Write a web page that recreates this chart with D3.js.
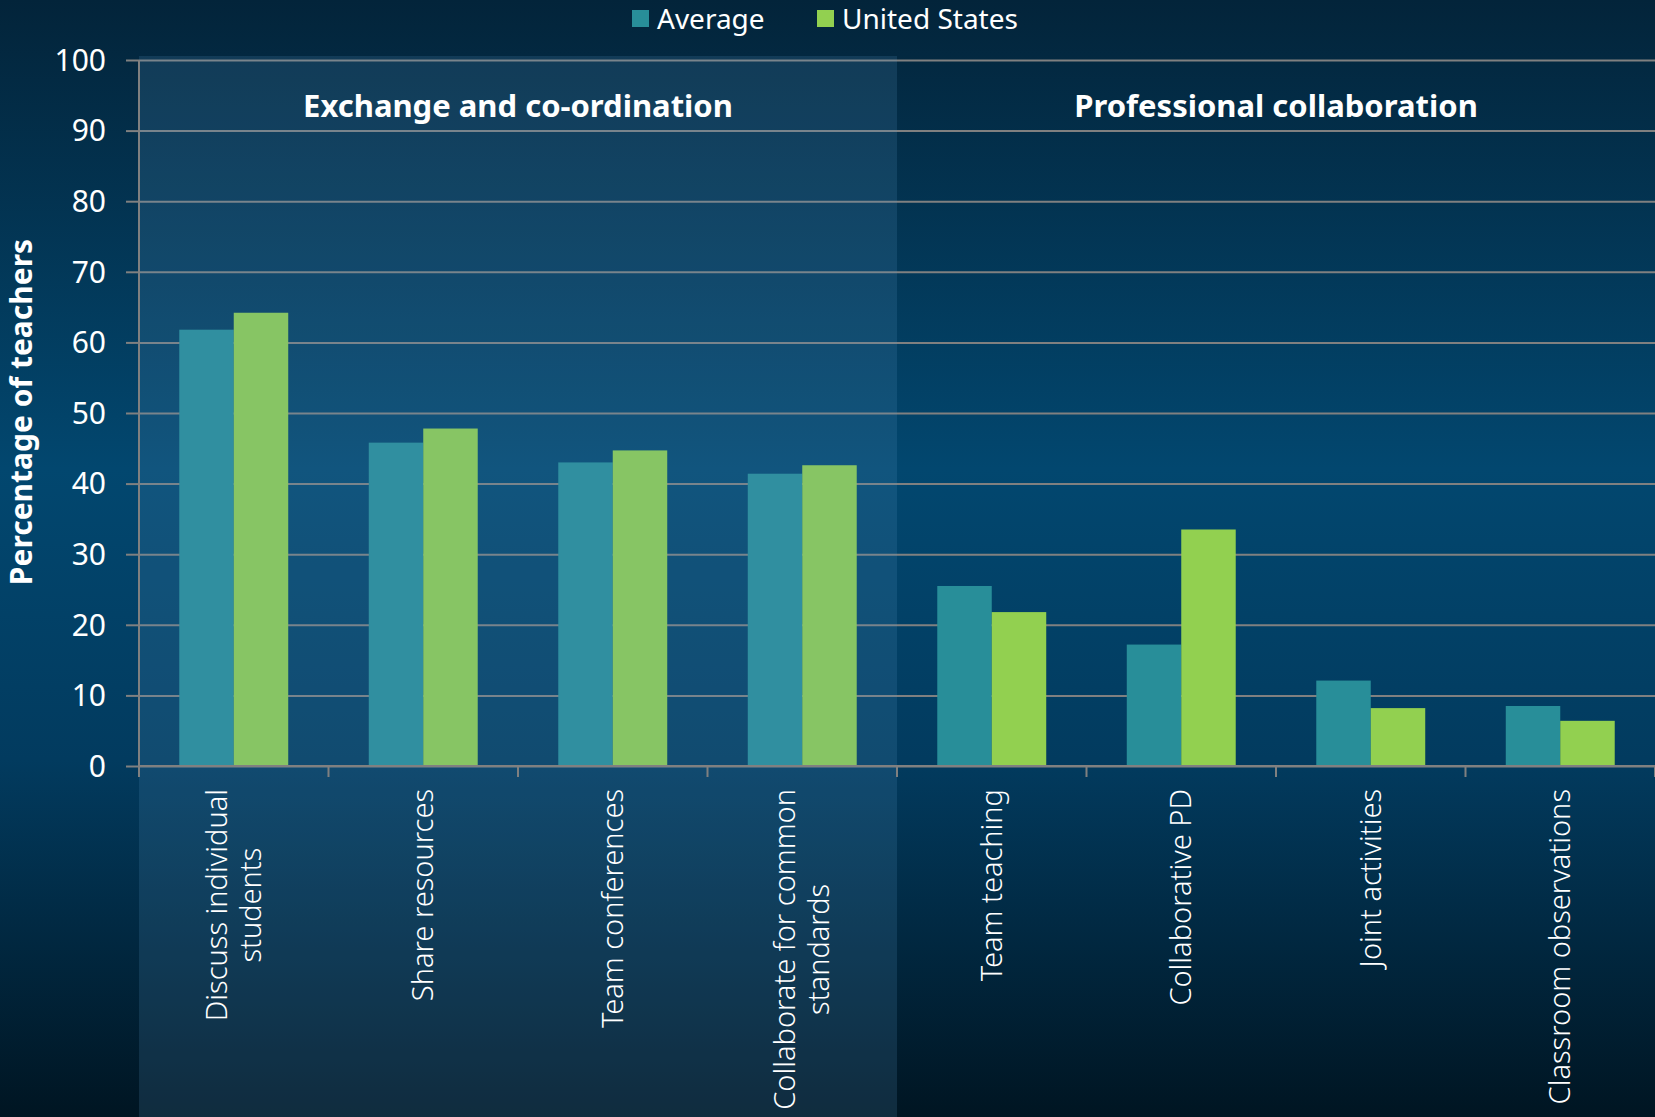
<!DOCTYPE html>
<html>
<head>
<meta charset="utf-8">
<script src="https://cdn.jsdelivr.net/npm/d3@7"></script>
<style>
  html, body { margin: 0; padding: 0; background: #001a2c; }
  svg text { font-family: "Noto Sans", "Open Sans", sans-serif; fill: #ffffff; }
</style>
</head>
<body>
<div id="chart"></div>
<script>
var categories = [
  "Discuss individual\nstudents",
  "Share resources",
  "Team conferences",
  "Collaborate for common\nstandards",
  "Team teaching",
  "Collaborative PD",
  "Joint activities",
  "Classroom observations"
];
var seriesNames = ["Average", "United States"];
var averageValues = [61.8, 45.8, 43.0, 41.4, 25.5, 17.2, 12.1, 8.5];
var usValues = [64.2, 47.8, 44.7, 42.6, 21.8, 33.5, 8.2, 6.4];
var groupNames = ["Exchange and co-ordination", "Professional collaboration"];
var groupSpans = [[0, 3], [4, 7]];
var yTicks = [0, 10, 20, 30, 40, 50, 60, 70, 80, 90, 100];

var width = 1655,
    height = 1117,
    plotLeft = 139,
    plotTop = 60,
    plotBottom = 766;

var colors = { "Average": "#288e99", "United States": "#92d050" };

var svg = d3.select("#chart").append("svg")
    .attr("width", width)
    .attr("height", height);

var defs = svg.append("defs");
var grad = defs.append("linearGradient")
    .attr("id", "bg")
    .attr("x1", 0).attr("y1", 0).attr("x2", 0).attr("y2", 1);
grad.append("stop").attr("offset", "0%").attr("stop-color", "#03243a");
grad.append("stop").attr("offset", "42%").attr("stop-color", "#02476f");
grad.append("stop").attr("offset", "68%").attr("stop-color", "#023b5f");
grad.append("stop").attr("offset", "100%").attr("stop-color", "#001522");

svg.append("rect")
    .attr("width", width)
    .attr("height", height)
    .attr("fill", "url(#bg)");

var x0 = d3.scaleBand()
    .domain(categories)
    .range([plotLeft, width])
    .paddingInner(0.425)
    .paddingOuter(0.2125);

var x1 = d3.scaleBand()
    .domain(seriesNames)
    .range([0, x0.bandwidth()]);

var y = d3.scaleLinear()
    .domain([0, 100])
    .range([plotBottom, plotTop]);

// gridlines
svg.append("g")
    .attr("transform", "translate(" + plotLeft + ",0)")
    .call(d3.axisLeft(y).tickValues(yTicks).tickSize(-(width - plotLeft)).tickFormat(""))
    .call(function (g) {
      g.select(".domain").remove();
      g.selectAll("line").attr("stroke", "#808080").attr("stroke-width", 2);
    });

// bars
var rows = categories.map(function (c, i) {
  return { cat: c, values: [
    { key: "Average", value: averageValues[i] },
    { key: "United States", value: usValues[i] }
  ] };
});

svg.append("g")
  .selectAll("g")
  .data(rows)
  .enter().append("g")
    .attr("transform", function (d) { return "translate(" + x0(d.cat) + ",0)"; })
  .selectAll("rect")
  .data(function (d) { return d.values; })
  .enter().append("rect")
    .attr("x", function (d) { return x1(d.key); })
    .attr("y", function (d) { return y(d.value); })
    .attr("width", x1.bandwidth())
    .attr("height", function (d) { return plotBottom - y(d.value); })
    .attr("fill", function (d) { return colors[d.key]; });

// lighter overlay on the first group
var step = x0.step();
svg.append("rect")
    .attr("x", plotLeft)
    .attr("y", plotTop - 4)
    .attr("width", step * (groupSpans[0][1] - groupSpans[0][0] + 1))
    .attr("height", height - plotTop + 4)
    .attr("fill", "#5a93c4")
    .attr("opacity", 0.18);

// y ticks
svg.append("g")
    .attr("transform", "translate(" + plotLeft + ",0)")
    .call(d3.axisLeft(y).tickValues(yTicks).tickSize(13).tickFormat(""))
    .call(function (g) {
      g.select(".domain").remove();
      g.selectAll("line").attr("stroke", "#808080").attr("stroke-width", 2);
    });

// axis lines
var xTickPos = d3.range(categories.length + 1).map(function (i) { return plotLeft + i * step; });
svg.append("line")
    .attr("x1", plotLeft).attr("x2", width)
    .attr("y1", plotBottom).attr("y2", plotBottom)
    .attr("stroke", "#808080").attr("stroke-width", 2);
svg.append("line")
    .attr("x1", plotLeft).attr("x2", plotLeft)
    .attr("y1", plotTop).attr("y2", plotBottom + 10)
    .attr("stroke", "#808080").attr("stroke-width", 2);
svg.append("g").selectAll("line")
  .data(xTickPos)
  .enter().append("line")
    .attr("x1", function (d) { return d; })
    .attr("x2", function (d) { return d; })
    .attr("y1", plotBottom)
    .attr("y2", plotBottom + 11)
    .attr("stroke", "#808080").attr("stroke-width", 2);

// y tick labels
svg.append("g").selectAll("text")
  .data(yTicks)
  .enter().append("text")
    .attr("x", 106)
    .attr("y", function (d) { return y(d); })
    .attr("dy", "0.36em")
    .attr("text-anchor", "end")
    .style("font-size", "30px")
    .text(function (d) { return d; });

// y axis title
svg.append("text")
    .attr("transform", "translate(32,412) rotate(-90)")
    .attr("text-anchor", "middle")
    .style("font-size", "30px")
    .style("font-weight", "bold")
    .text("Percentage of teachers");

// group titles
svg.append("g").selectAll("text")
  .data(groupNames)
  .enter().append("text")
    .attr("x", function (d, i) {
      return plotLeft + step * (groupSpans[i][0] + groupSpans[i][1] + 1) / 2;
    })
    .attr("y", 117)
    .attr("text-anchor", "middle")
    .style("font-size", "31px")
    .style("font-weight", "bold")
    .text(function (d) { return d; });

// category labels, rotated
var labelTop = 789, lineGap = 34;
svg.append("g").selectAll("g")
  .data(categories)
  .enter().append("g")
  .each(function (c) {
    var g = d3.select(this);
    var lines = c.split("\n");
    var cx = x0(c) + x0.bandwidth() / 2;
    var texts = lines.map(function (l) {
      return g.append("text")
        .attr("text-anchor", "middle")
        .style("font-size", "29px")
        .style("font-weight", "300")
        .text(l);
    });
    var maxLen = d3.max(texts, function (t) { return t.node().getComputedTextLength(); });
    var cy = labelTop + maxLen / 2;
    texts.forEach(function (t, k) {
      var off = (k - (lines.length - 1) / 2) * lineGap;
      t.attr("transform", "translate(" + (cx + off) + "," + cy + ") rotate(-90)")
       .attr("dy", "0.35em");
    });
  });

// legend
var legendX = [632, 817];
var legend = svg.append("g").selectAll("g")
  .data(seriesNames)
  .enter().append("g")
    .attr("transform", function (d, i) { return "translate(" + legendX[i] + ",0)"; });
legend.append("rect")
    .attr("y", 10)
    .attr("width", 17)
    .attr("height", 17)
    .attr("fill", function (d) { return colors[d]; });
legend.append("text")
    .attr("x", 25)
    .attr("y", 29)
    .style("font-size", "28px")
    .text(function (d) { return d; });
</script>
</body>
</html>
